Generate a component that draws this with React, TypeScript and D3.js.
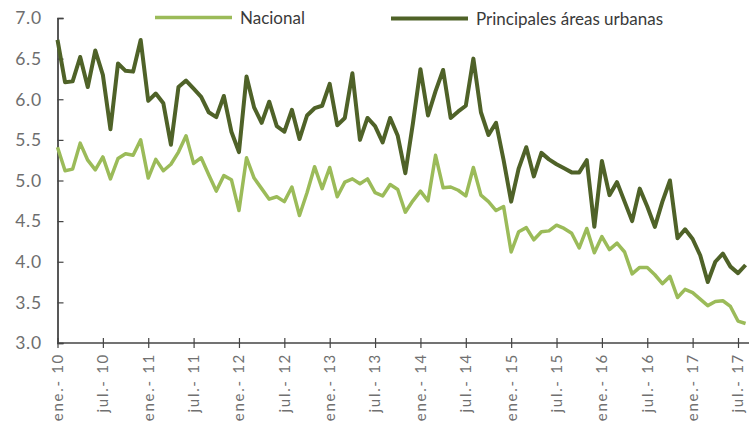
import React, { useEffect, useRef } from 'react';
import * as d3 from 'd3';

// monthly values, ene-2010 .. ago-2017
const nacional = [
  5.41, 5.12, 5.14, 5.46, 5.25, 5.13, 5.29, 5.02, 5.27, 5.33, 5.31, 5.5,
  5.03, 5.26, 5.12, 5.2, 5.35, 5.55, 5.21, 5.28, 5.07, 4.87, 5.06, 5.01,
  4.63, 5.28, 5.03, 4.9, 4.77, 4.8, 4.74, 4.92, 4.57, 4.85, 5.17, 4.9,
  5.16, 4.8, 4.98, 5.02, 4.96, 5.02, 4.85, 4.81, 4.95, 4.89, 4.61, 4.75,
  4.87, 4.75, 5.31, 4.91, 4.92, 4.88, 4.81, 5.16, 4.82, 4.74, 4.63, 4.68,
  4.12, 4.37, 4.42, 4.27, 4.37, 4.38, 4.45, 4.41, 4.35, 4.17, 4.41, 4.11,
  4.31, 4.15, 4.23, 4.12, 3.85, 3.93, 3.93, 3.84, 3.73, 3.82, 3.56, 3.66,
  3.62, 3.54, 3.46, 3.51, 3.52, 3.45, 3.27, 3.24,
];

const urbanas = [
  6.73, 6.21, 6.22, 6.52, 6.15, 6.6, 6.3, 5.63, 6.44, 6.35, 6.34, 6.73,
  5.98, 6.07, 5.95, 5.44, 6.15, 6.23, 6.13, 6.03, 5.84, 5.78, 6.04, 5.6,
  5.35, 6.28, 5.9, 5.71, 5.97, 5.67, 5.6, 5.87, 5.51, 5.8, 5.89, 5.92,
  6.19, 5.68, 5.77, 6.32, 5.5, 5.77, 5.67, 5.47, 5.77, 5.55, 5.09, 5.7,
  6.37, 5.8, 6.1, 6.36, 5.77, 5.85, 5.92, 6.5, 5.84, 5.56, 5.71, 5.25,
  4.74, 5.15, 5.41, 5.05, 5.34, 5.26, 5.2, 5.15, 5.1, 5.1, 5.25, 4.43,
  5.24, 4.82, 4.98, 4.74, 4.5, 4.9, 4.68, 4.43, 4.74, 5.0, 4.29, 4.4,
  4.28, 4.08, 3.75, 4.0, 4.1, 3.94, 3.86, 3.96,
];

const tickLabels = [
  'ene.- 10', 'jul.- 10', 'ene.- 11', 'jul.- 11', 'ene.- 12', 'jul.- 12',
  'ene.- 13', 'jul.- 13', 'ene.- 14', 'jul.- 14', 'ene.- 15', 'jul.- 15',
  'ene.- 16', 'jul.- 16', 'ene.- 17', 'jul.- 17',
];

const yTicks = [3.0, 3.5, 4.0, 4.5, 5.0, 5.5, 6.0, 6.5, 7.0];

const seriesNames = ['Nacional', 'Principales áreas urbanas'];
const colors = ['#9BBB59', '#4F6228'];
const widths = [3.5, 4];

const App = () => {
  const svgRef = useRef<SVGSVGElement>(null);
  const width = 750;
  const height = 426;
  const font = 'Lato, "Open Sans", sans-serif';

  useEffect(() => {
    const svg = d3.select(svgRef.current);
    svg.selectAll('*').remove();

    const x = d3.scaleLinear().domain([0, 90]).range([57.5, 738]);
    const y = d3.scaleLinear().domain([3, 7]).range([343, 18]);

    // y axis
    const yAxis = svg.append('g').attr('transform', `translate(${x(0)},0)`)
      .call(d3.axisRight(y).tickValues(yTicks).tickSize(6).tickFormat(() => ''));
    yAxis.select('.domain').attr('stroke', '#222').attr('stroke-width', 1.5);
    yAxis.selectAll('.tick line').attr('stroke', '#444').attr('stroke-width', 1.2);

    svg.append('g')
      .selectAll('text')
      .data(yTicks)
      .join('text')
      .attr('x', 42)
      .attr('y', d => y(d))
      .attr('dy', '0.36em')
      .attr('text-anchor', 'end')
      .attr('font-family', font)
      .attr('font-size', 17.5)
      .attr('letter-spacing', 0.8)
      .attr('fill', '#6e6e6e')
      .text(d => d.toFixed(1));

    // x axis
    const tickIdx = tickLabels.map((_, i) => i * 6);
    const xAxis = svg.append('g').attr('transform', `translate(0,${y(3)})`)
      .call(d3.axisBottom(x).tickValues(tickIdx).tickSizeInner(5).tickSizeOuter(0).tickFormat(() => ''));
    xAxis.select('.domain').attr('stroke', '#444').attr('stroke-width', 1.6)
      .attr('d', `M${x(0)},0H749`);
    xAxis.selectAll('.tick line').attr('y1', -5).attr('y2', 5)
      .attr('stroke', '#444').attr('stroke-width', 1.2);

    svg.append('g')
      .selectAll('text')
      .data(tickLabels)
      .join('text')
      .attr('transform', (_, i) => `translate(${x(tickIdx[i])},353) rotate(-90)`)
      .attr('dy', '0.36em')
      .attr('text-anchor', 'end')
      .attr('font-family', font)
      .attr('font-size', 15)
      .attr('letter-spacing', 1.7)
      .attr('fill', '#707070')
      .text(d => d);

    // lines
    const line = d3.line<number>()
      .x((_, i) => x(i))
      .y(d => y(d));

    [nacional, urbanas].forEach((s, k) => {
      svg.append('path')
        .datum(s)
        .attr('fill', 'none')
        .attr('stroke', colors[k])
        .attr('stroke-width', widths[k])
        .attr('stroke-linejoin', 'round')
        .attr('d', line);
    });

    // legend
    const legend = [
      { x1: 155, x2: 232, y: 17.5, tx: 240 },
      { x1: 391, x2: 468, y: 18.5, tx: 476 },
    ];
    legend.forEach((l, k) => {
      svg.append('line')
        .attr('x1', l.x1).attr('x2', l.x2)
        .attr('y1', l.y).attr('y2', l.y)
        .attr('stroke', colors[k])
        .attr('stroke-width', widths[k]);
      svg.append('text')
        .attr('x', l.tx)
        .attr('y', l.y)
        .attr('dy', '0.36em')
        .attr('font-family', font)
        .attr('font-size', 17)
        .attr('fill', '#3a3a3a')
        .text(seriesNames[k]);
    });
  }, []);

  return (
    <svg
      ref={svgRef}
      width={width}
      height={height}
      style={{ position: 'absolute', left: 0, top: 0, background: '#fff' }}
    />
  );
};

export default App;
